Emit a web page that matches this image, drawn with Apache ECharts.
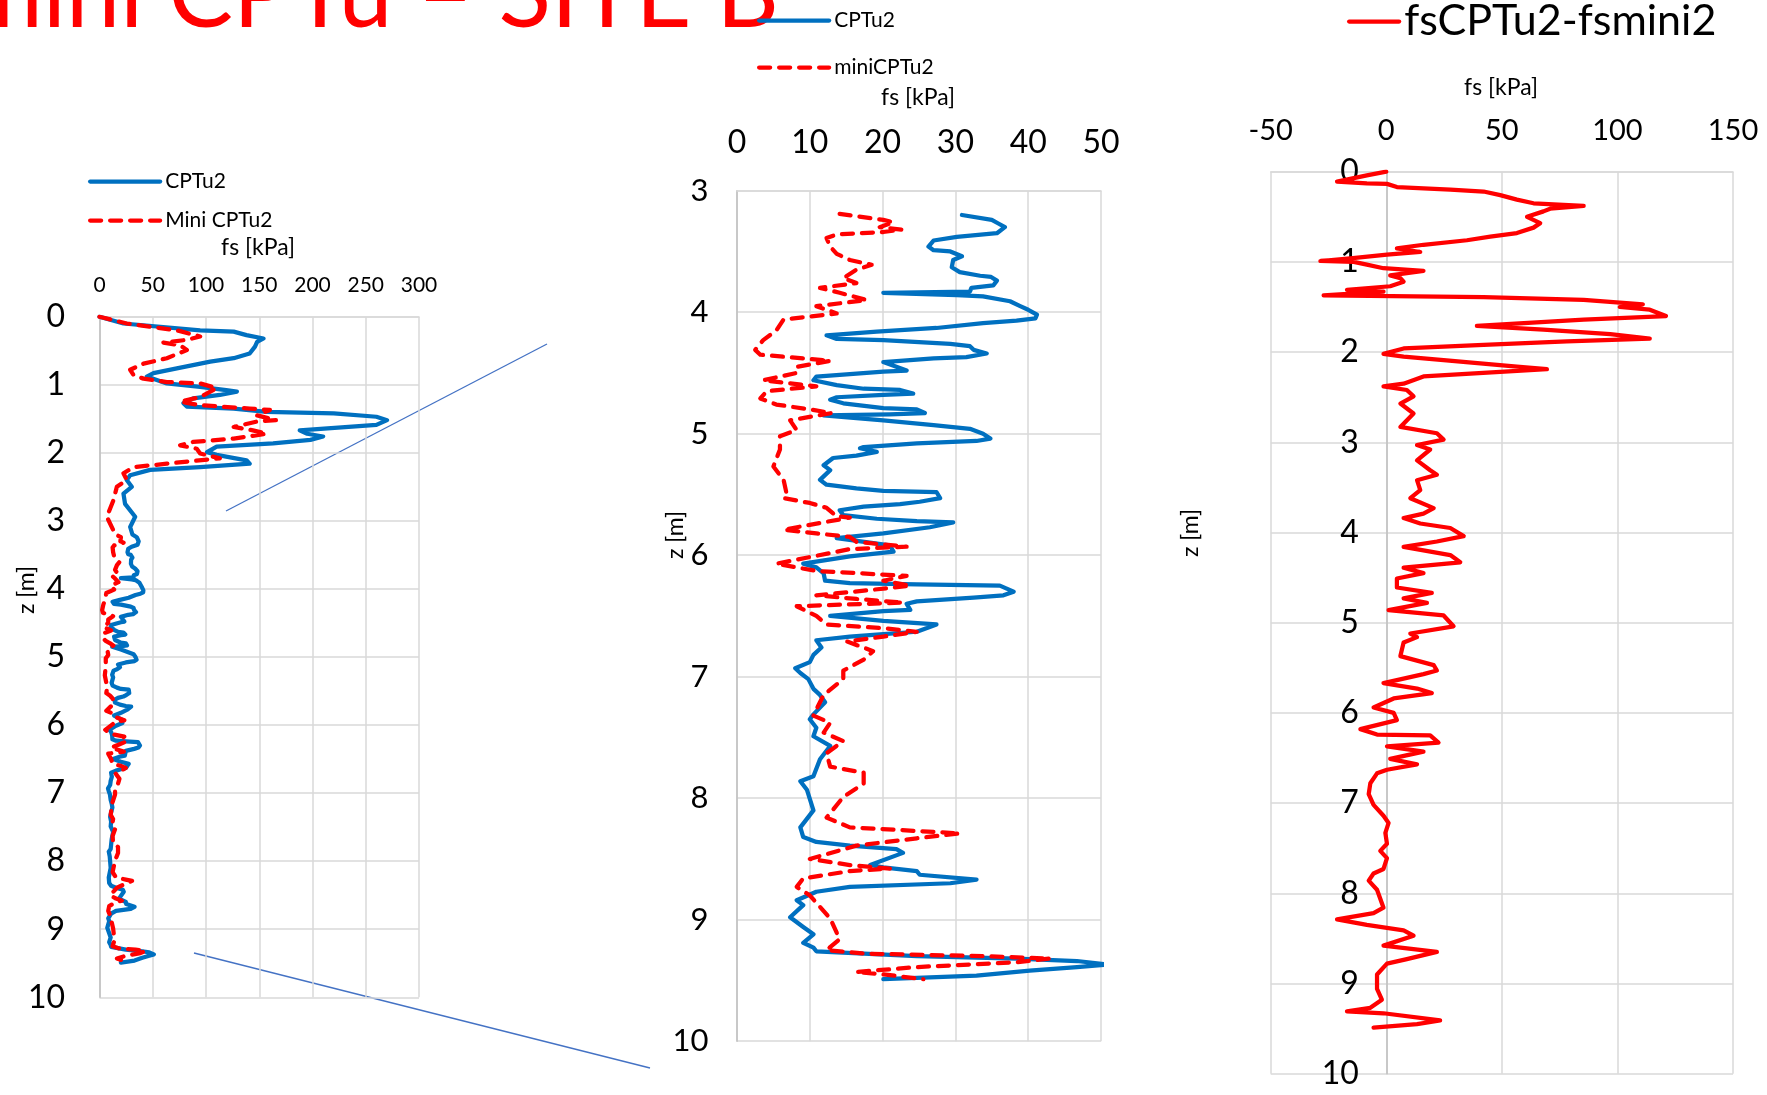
<!DOCTYPE html>
<html><head><meta charset="utf-8">
<script src="https://cdn.jsdelivr.net/npm/echarts@6/dist/echarts.min.js"></script>
<style>html,body{margin:0;padding:0;background:#fff}#c{width:1767px;height:1095px}</style>
</head><body><div id="c"></div>
<script>
// ---- CPTu2 sleeve friction (blue) ----
const cptDepth = [0,0.1,0.2,0.22,0.27,0.32,0.37,0.44,0.54,0.61,0.66,0.76,0.83,0.88,0.93,0.98,1.03,1.08,1.10,1.15,1.2,1.27,1.32,1.35,1.40,1.42,1.47,1.52,1.59,1.67,1.72,1.76,1.81,1.86,1.91,1.99,2.03,2.11,2.16,2.21,2.25,2.33,2.40,2.50,2.60,2.75,2.94,3.09,
3.20,3.24,3.27,3.30,3.35,3.38,3.41,3.46,3.49,3.50,3.54,3.57,3.63,3.67,3.70,3.71,3.74,3.78,3.80,3.83,3.84,3.86,3.87,3.91,3.95,3.98,4.02,4.05,4.07,4.09,4.13,4.16,4.19,4.22,4.23,4.26,4.28,4.31,4.34,4.37,4.38,4.41,4.48,4.49,4.53,4.56,4.60,4.63,4.64,4.67,4.68,4.70,4.72,4.75,4.79,4.80,4.83,4.84,4.85,4.89,4.93,4.96,5.00,5.04,5.06,5.08,5.11,5.12,5.15,5.18,5.20,5.26,5.30,5.38,5.42,5.45,5.47,5.48,5.53,5.56,5.58,5.60,5.63,5.67,5.70,5.72,5.73,5.77,5.82,5.86,5.92,5.97,6.01,6.07,6.10,6.15,6.21,6.23,6.24,6.25,6.30,6.33,6.35,6.38,6.40,6.45,6.46,6.50,6.54,6.57,6.60,6.63,6.65,6.67,6.70,6.76,6.82,6.88,6.93,6.97,7.02,7.10,7.15,7.21,7.31,7.35,7.42,7.49,7.57,7.68,7.82,7.86,7.93,8.10,8.24,8.32,8.36,8.39,8.42,8.45,8.55,8.57,8.60,8.63,8.67,8.70,8.73,8.77,8.84,8.88,8.98,9.06,9.12,9.19,9.23,9.26,9.30,9.32,9.34,9.37,9.39,9.42,9.46,9.49];
const cptFs = [0,22.5,94.5,126,138,154,148,146,141,126,104,72.6,50.7,44.4,53.8,63.2,94.5,119,129,113,88,78.8,82,126,157,220,260,270,260,188,195,210,198,163,110,101,110,138,141,94.5,47.5,28.8,25.6,30.3,22.5,24,33.5,28.8,
30.9,35,35.9,36.8,35.7,30.2,27,26.3,27,29.3,30.9,29.7,29.5,30.6,33.4,34.9,35.7,35.2,32.2,32,20.1,30.2,33.8,37.5,38.9,40,41.2,41,38.4,33.8,27.4,19.2,12.3,13.7,20.1,29.3,32,32.5,34.3,31.5,27,20.1,23.3,20.1,10.9,10.5,13.7,17.4,22.4,24.2,20.1,13.7,12.8,14.6,20.1,24.7,25.8,21,11.9,20.1,27,32,33.8,34.8,32.9,24.7,17.4,16.9,19.2,16.4,13.2,11.9,12.8,11.4,12.3,16.4,20.1,27.4,27.9,25.1,22.4,17.4,14.1,14.6,19.2,24.7,29.7,26.5,20.1,13.7,21,21.5,15.5,9.1,10.9,11.9,12.1,15.5,24.7,36.1,38,36.6,32.5,24.7,23.3,23.8,20.1,12.8,20.1,27.4,26.1,24.7,20.1,15.5,10.9,11.6,10.5,10,8,8.7,9.8,10.5,11.4,12.1,10.5,10,10.9,10.5,12.8,11.4,10.5,8.7,9.6,10.5,8.7,9.1,10.9,15.5,21.9,22.8,18.3,20.1,24.7,25.1,32.9,29.3,15.5,10.9,8.2,9.1,7.3,9.1,10.5,9.1,10.5,10.9,24.7,38.4,46.7,51,46.7,40.2,32.9,20.1];

// ---- Mini CPTu2 sleeve friction (red dashed) ----
const miniDepth = [0,0.1,0.2,0.29,0.34,0.38,0.42,0.49,0.61,0.69,0.78,0.86,0.91,0.96,0.98,1.05,1.18,1.25,1.30,1.35,1.37,1.45,1.52,1.54,1.62,1.67,1.72,1.79,1.84,1.89,1.94,2.01,2.08,2.16,2.21,2.30,2.40,2.5,2.70,2.94,3.14,
3.19,3.24,3.26,3.30,3.32,3.34,3.36,3.39,3.46,3.52,3.57,3.61,3.65,3.72,3.76,3.80,3.84,3.90,3.95,4.01,4.06,4.15,4.23,4.31,4.35,4.40,4.45,4.50,4.56,4.61,4.65,4.71,4.76,4.80,4.83,4.89,4.97,5.02,5.13,5.27,5.38,5.49,5.53,5.57,5.61,5.68,5.69,5.79,5.82,5.85,5.89,5.93,5.95,6.07,6.13,6.17,6.21,6.25,6.29,6.33,6.36,6.39,6.42,6.50,6.57,6.60,6.63,6.67,6.71,6.79,6.86,6.95,7.02,7.15,7.27,7.32,7.38,7.46,7.53,7.63,7.74,7.79,7.88,7.99,8.16,8.24,8.27,8.29,8.33,8.39,8.50,8.55,8.58,8.60,8.66,8.73,8.80,8.99,9.16,9.25,9.28,9.30,9.32,9.35,9.39,9.43,9.45,9.49];
const miniFs = [0,25.6,72.6,94.5,82,60,75.7,82,63.2,41.3,28.8,32,41.3,63.2,94.5,110,94.5,75.7,94.5,141,160,148,166,148,126,144,157,126,88,75.7,91.3,94.5,113,63.2,32,22.5,25.6,16.3,13,6.9,13,
14.1,20.1,21.5,19.6,22.6,20.1,13.7,12.3,12.8,13.7,15.5,18.5,16.4,14.6,16.4,11.4,14.1,17.8,10.9,13.7,6.4,5.4,3.6,2.5,3.2,12.8,8.2,8.2,3.6,10.9,4.1,3.2,5.4,10,13,7.3,8.2,5.9,5.9,5.0,6.4,6.8,6.4,10,12.3,13.7,15.5,6.4,10.9,15.5,16.4,23.3,15.5,5.4,10.9,23.3,20.1,23.8,17.8,10.9,16.4,22.8,8.2,10.9,12.3,20.1,24.7,20.1,15.1,18.7,17.4,14.6,14.6,11.9,10.9,10.5,12.8,11.9,14.6,12.3,12.8,17.4,17.4,14.6,12.3,15.5,24.7,30.6,24.7,16.4,10,15.5,21,15.5,9.1,8.2,10,12.8,14.1,12.3,17.8,33.8,43,38.4,24.7,16.4,20.1,25.6];

// ---- fsCPTu2 - fsmini2 (right panel) ----
const diffDepth = [0,0.04,0.11,0.13,0.135,0.17,0.20,0.22,0.26,0.31,0.35,0.38,0.41,0.44,0.50,0.57,0.62,0.68,0.72,0.76,0.81,0.85,0.89,0.92,0.96,0.99,1.0,1.03,1.07,1.10,1.15,1.18,1.22,1.27,1.31,1.33,1.37,1.39,1.42,1.47,1.50,1.53,1.60,1.64,1.71,1.75,1.80,1.85,1.88,1.92,1.96,2.02,2.05,2.09,2.16,2.19,2.22,2.27,2.35,2.38,2.42,2.49,2.57,2.68,2.83,2.90,2.97,3.03,3.08,3.20,3.31,3.36,3.42,3.53,3.62,3.73,3.79,3.84,3.90,3.95,4.04,4.10,4.16,4.25,4.33,4.39,4.45,4.51,4.61,4.67,4.73,4.78,4.86,4.92,5.04,5.12,5.16,5.22,5.37,5.47,5.53,5.57,5.67,5.73,5.78,5.84,5.94,6.00,6.08,6.18,6.24,6.25,6.33,6.37,6.43,6.51,6.57,6.63,6.67,6.78,6.90,7.02,7.14,7.22,7.33,7.45,7.53,7.61,7.73,7.78,7.86,7.96,8.16,8.22,8.29,8.35,8.41,8.47,8.58,8.65,8.73,8.78,8.90,9.06,9.18,9.27,9.31,9.33,9.41,9.45,9.49];
const diffFs = [0,-8.4,-21.3,-8.4,0.3,4.6,27.7,42.1,49.3,56.5,63.7,85.4,70.9,68,60.9,66.6,63.7,56.5,45,34.9,16.1,4.6,14.7,0.3,-15.6,-28.5,-14.1,-8.4,-1.2,16.1,1.7,6.1,7.5,1.7,-17,-1.2,-27.1,42.1,85.4,111,101,114,121,85.4,39.2,68,96.9,114,78.1,42.1,7.5,-1.2,7.5,24.8,56.5,69.5,49.3,16.1,7.5,-1.2,8.9,11.8,6.1,11.8,6.1,21.9,24.8,13.3,19,13.3,19,21.9,13.3,14.7,10.4,20.5,16.1,7.5,14.7,27.7,33.5,21.9,7.5,27.7,32,7.5,16.1,4.6,4.6,19.7,7.5,17.6,1,24.8,29.1,10.4,13.3,7.5,6.1,20.5,21.9,16.1,-1.2,13.3,19.7,3.2,-5.5,3.2,4.6,-11.2,-4,19,22.6,0.3,16.1,1.7,13.3,0.3,-4,-6.9,-7.6,-5.5,-1.2,1,-0.4,0.3,-2.6,0.3,-1.2,-5.5,-7.6,-4,-1.2,-5.5,-21.3,-8.4,7.5,11.8,-1.2,21.9,8.9,0.3,-4,-4,-1.9,-6.9,-17,-1.2,23.3,13.3,-5.5];

// axis ranges [min, max, interval]
const leftX = [0, 300, 50], leftY = [0, 10, 1];
const midX = [0, 50, 10], midY = [3, 10, 1];
const rightX = [-50, 150, 50], rightY = [0, 10, 1];

const FONT = 'Lato';
const BLUE = '#0070C0', RED = '#FF0000';
const LW = 4.25;
const pairs = (xs, zs, zmin) => zs.map((z, i) => [xs[i], z]).filter(p => zmin == null || p[1] >= zmin);

const GRIDS = [
  {left: 99.5, top: 316.7, width: 319.5, height: 680.6},
  {left: 737, top: 190.7, width: 364, height: 850.5},
  {left: 1270.7, top: 171.7, width: 462.3, height: 902}
];
const split = {show: true, lineStyle: {color: '#D9D9D9', width: 1.5}};
function xAx(g, r, fs, margin) {
  return {gridIndex: g, type: 'value', position: 'top', min: r[0], max: r[1], interval: r[2],
    axisLine: {show: true, onZero: false, lineStyle: {color: '#D9D9D9', width: 1.5}},
    axisTick: {show: false}, splitLine: split,
    axisLabel: {fontFamily: FONT, fontSize: fs, lineHeight: fs, color: '#000', margin: margin}};
}
function yAx(g, r, fs, margin, xr) {
  // place the vertical axis where the horizontal value 0 lies (Excel "axis crosses at 0")
  const off = -GRIDS[g].width * (0 - xr[0]) / (xr[1] - xr[0]);
  return {gridIndex: g, type: 'value', position: 'left', offset: off, inverse: true, min: r[0], max: r[1], interval: r[2],
    axisLine: {show: true, onZero: false, lineStyle: {color: '#BFBFBF', width: 1.5}},
    axisTick: {show: false}, splitLine: split,
    axisLabel: {fontFamily: FONT, fontSize: fs, lineHeight: fs, color: '#000', margin: margin}};
}
function line(name, xi, data, color, dashed) {
  return {name: name, type: 'line', xAxisIndex: xi, yAxisIndex: xi, data: data,
    symbol: 'none', showSymbol: false, clip: true, z: dashed ? 3 : 2,
    itemStyle: {color: color},
    lineStyle: {color: color, width: LW, type: dashed ? [11, 9] : 'solid', cap: 'round', join: 'round'}};
}
function txt(x, y, s, size, opts) {
  return Object.assign({type: 'text', x: x, y: y, silent: true,
    style: {text: s, fill: '#000', fontSize: size, fontFamily: FONT, align: 'center', verticalAlign: 'middle',
      textAlign: 'center', textVerticalAlign: 'middle'}}, opts || {});
}
const legendBase = {orient: 'vertical', padding: 0, selectedMode: false,
  itemStyle: {opacity: 0, color: 'rgba(0,0,0,0)', borderWidth: 0},
  lineStyle: {width: LW, cap: 'round'}};

const chart = echarts.init(document.getElementById('c'), null, {renderer: 'canvas', width: 1767, height: 1095});
chart.setOption({
  animation: false,
  backgroundColor: '#fff',
  grid: GRIDS,
  xAxis: [xAx(0, leftX, 21, 20.5), xAx(1, midX, 32, 32), xAx(2, rightX, 29, 26.5)],
  yAxis: [yAx(0, leftY, 32, 34.5, leftX), yAx(1, midY, 31, 28.5, midX), yAx(2, rightY, 32, 27.5, rightX)],
  legend: [
    Object.assign({}, legendBase, {data: ['CPTu2', 'Mini CPTu2'], left: 88, top: 171, itemWidth: 70, itemHeight: 20, itemGap: 18,
      textStyle: {fontFamily: FONT, fontSize: 21, lineHeight: 20, color: '#000'}}),
    Object.assign({}, legendBase, {data: ['CPTu2', 'miniCPTu2'], left: 757, top: 10, itemWidth: 70, itemHeight: 20, itemGap: 26,
      textStyle: {fontFamily: FONT, fontSize: 21, lineHeight: 20, color: '#000'}}),
    Object.assign({}, legendBase, {data: ['fsCPTu2-fsmini2'], left: 1347, top: 0, itemWidth: 50, itemHeight: 14,
      textStyle: {fontFamily: FONT, fontSize: 43, lineHeight: 34, color: '#000'}})
  ],
  series: [
    line('CPTu2', 0, pairs(cptFs, cptDepth), BLUE, false),
    line('Mini CPTu2', 0, pairs(miniFs, miniDepth), RED, true),
    line('CPTu2', 1, pairs(cptFs, cptDepth, 3.17), BLUE, false),
    line('miniCPTu2', 1, pairs(miniFs, miniDepth, 3.17), RED, true),
    line('fsCPTu2-fsmini2', 2, pairs(diffFs, diffDepth), RED, false)
  ],
  graphic: [
    {type: 'text', x: 779, y: -4.5, silent: true,
      style: {text: 'mini CPTu \u2013 SITE B', fill: RED, fontSize: 97, fontFamily: FONT,
        align: 'right', textAlign: 'right', verticalAlign: 'middle', textVerticalAlign: 'middle'}},
    txt(258, 248, 'fs [kPa]', 23),
    txt(918, 98, 'fs [kPa]', 23),
    txt(1501, 88, 'fs [kPa]', 23),
    txt(27, 590, 'z [m]', 23, {rotation: Math.PI / 2}),
    txt(676, 535, 'z [m]', 23, {rotation: Math.PI / 2}),
    txt(1191, 533, 'z [m]', 23, {rotation: Math.PI / 2}),
    {type: 'line', silent: true, shape: {x1: 226, y1: 511, x2: 547, y2: 344}, style: {stroke: '#4472C4', lineWidth: 1.3}},
    {type: 'line', silent: true, shape: {x1: 194, y1: 953, x2: 650, y2: 1068}, style: {stroke: '#4472C4', lineWidth: 1.3}}
  ]
});
</script>
</body></html>
